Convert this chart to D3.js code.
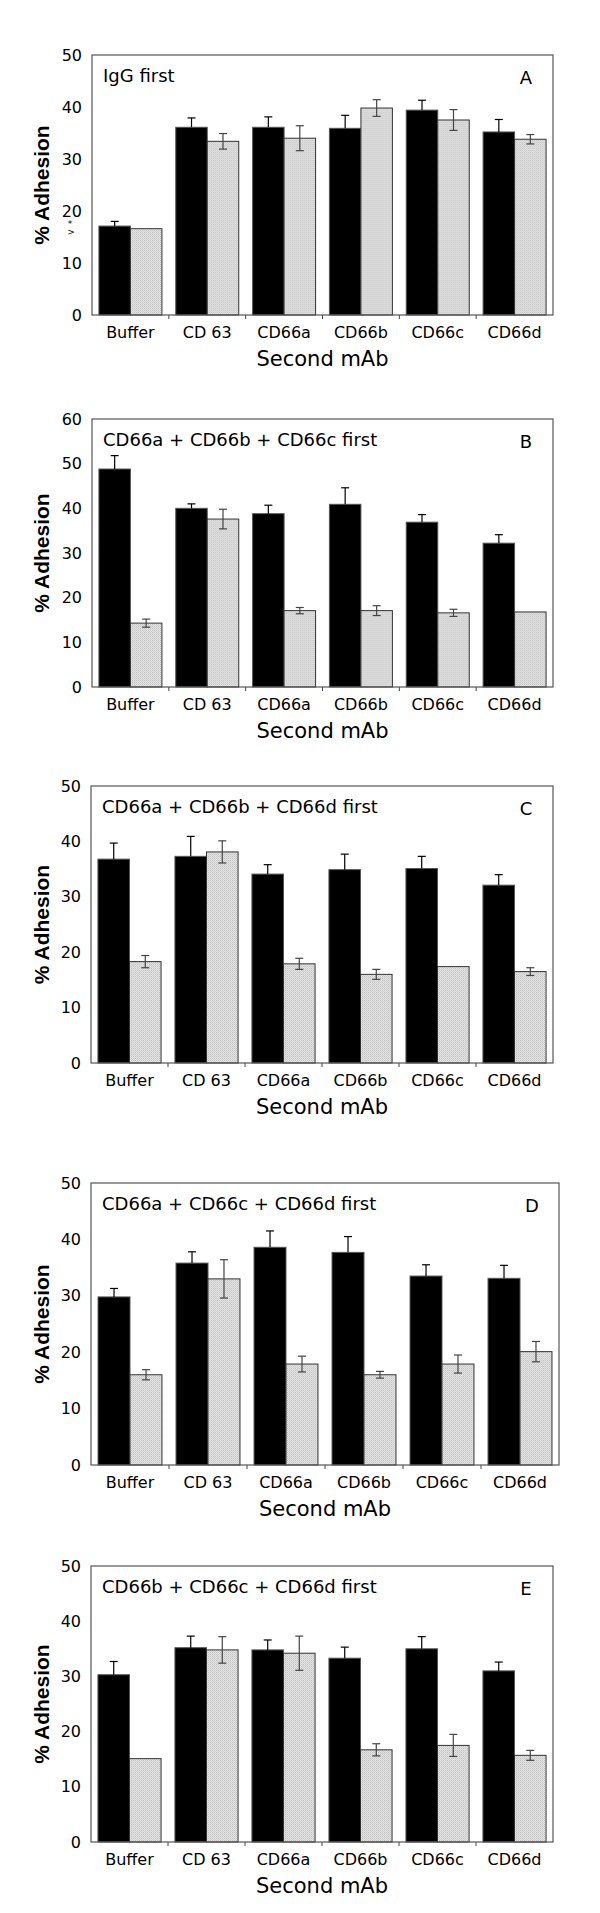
<!DOCTYPE html>
<html>
<head>
<meta charset="utf-8">
<script src="https://cdn.jsdelivr.net/npm/d3@7"></script>
<style>
  html, body { margin: 0; padding: 0; background: #fff; }
  svg { display: block; }
</style>
</head>
<body>
<script>
// ---------- data ----------
const categories = ["Buffer", "CD 63", "CD66a", "CD66b", "CD66c", "CD66d"];

const titles = ["IgG first", "CD66a + CD66b + CD66c first", "CD66a + CD66b + CD66d first",
                "CD66a + CD66c + CD66d first", "CD66b + CD66c + CD66d first"];
const letters = ["A", "B", "C", "D", "E"];
const yMaxes = [50, 60, 50, 50, 50];

const blackA = [17.1, 36.1, 36.1, 35.9, 39.4, 35.2];
const blackErrA = [0.9, 1.8, 2.0, 2.5, 1.9, 2.4];
const grayA = [16.6, 33.4, 34.0, 39.8, 37.5, 33.8];
const grayErrA = [0, 1.5, 2.4, 1.6, 2.0, 0.9];

const blackB = [48.8, 40.0, 38.8, 40.9, 36.9, 32.2];
const blackErrB = [3.0, 1.0, 1.9, 3.7, 1.7, 1.9];
const grayB = [14.3, 37.6, 17.1, 17.1, 16.6, 16.8];
const grayErrB = [0.9, 2.2, 0.7, 1.1, 0.8, 0];

const blackC = [36.8, 37.3, 34.1, 34.9, 35.1, 32.1];
const blackErrC = [2.9, 3.6, 1.7, 2.8, 2.2, 1.9];
const grayC = [18.3, 38.1, 17.9, 16.0, 17.4, 16.5];
const grayErrC = [1.1, 2.0, 1.0, 0.9, 0, 0.7];

const blackD = [29.8, 35.8, 38.6, 37.7, 33.5, 33.1];
const blackErrD = [1.5, 2.0, 2.9, 2.8, 2.0, 2.3];
const grayD = [16.0, 33.0, 17.9, 16.0, 17.9, 20.1];
const grayErrD = [0.9, 3.4, 1.4, 0.6, 1.6, 1.8];

const blackE = [30.3, 35.2, 34.8, 33.3, 35.0, 31.0];
const blackErrE = [2.4, 2.1, 1.8, 2.0, 2.2, 1.6];
const grayE = [15.1, 34.8, 34.2, 16.7, 17.5, 15.7];
const grayErrE = [0, 2.4, 3.1, 1.1, 2.0, 0.9];

const blackSeries = [blackA, blackB, blackC, blackD, blackE];
const blackErrSeries = [blackErrA, blackErrB, blackErrC, blackErrD, blackErrE];
const graySeries = [grayA, grayB, grayC, grayD, grayE];
const grayErrSeries = [grayErrA, grayErrB, grayErrC, grayErrD, grayErrE];

// ---------- layout ----------
const frames = [
  {left: 92, right: 553, top: 55,   bottom: 315},
  {left: 92, right: 553, top: 419,  bottom: 687},
  {left: 91, right: 553, top: 786,  bottom: 1063},
  {left: 91, right: 559, top: 1183, bottom: 1465},
  {left: 91, right: 553, top: 1566, bottom: 1842}
];

const svg = d3.select("body").append("svg")
  .attr("width", 600).attr("height", 1913);

const defs = svg.append("defs");
const pat = defs.append("pattern").attr("id", "stipple")
  .attr("patternUnits", "userSpaceOnUse").attr("width", 2).attr("height", 2);
pat.append("rect").attr("width", 2).attr("height", 2).attr("fill", "#e4e4e4");
pat.append("rect").attr("x", 0).attr("y", 0).attr("width", 1).attr("height", 1).attr("fill", "#c2c2c2");
pat.append("rect").attr("x", 1).attr("y", 1).attr("width", 1).attr("height", 1).attr("fill", "#d0d0d0");

const FONT = "'DejaVu Sans', Verdana, sans-serif";

frames.forEach((f, pi) => {
  const g = svg.append("g");
  const x0 = d3.scaleBand().domain(categories).range([f.left, f.right]).padding(0);
  const x1 = d3.scaleBand().domain(["black", "gray"]).range([0, x0.bandwidth()])
    .paddingInner(0).paddingOuter(0.22);
  const y = d3.scaleLinear().domain([0, yMaxes[pi]]).range([f.bottom, f.top]);

  const rows = categories.map((c, i) => ({
    cat: c,
    b: blackSeries[pi][i], be: blackErrSeries[pi][i],
    g: graySeries[pi][i], ge: grayErrSeries[pi][i]
  }));

  // y tick labels (no tick marks)
  const yAxis = d3.axisLeft(y).ticks(yMaxes[pi] / 10).tickSize(0).tickPadding(10);
  const ya = g.append("g").attr("transform", `translate(${f.left},0)`).call(yAxis);
  ya.select(".domain").remove();
  ya.selectAll("text").attr("font-family", FONT).attr("font-size", 16).attr("fill", "#000");

  // x axis with small ticks at group boundaries
  const xa = g.append("g").attr("transform", `translate(0,${f.bottom})`)
    .call(d3.axisBottom(x0).tickSize(0).tickPadding(12));
  xa.select(".domain").remove();
  xa.selectAll("text").attr("font-family", FONT).attr("font-size", 16).attr("fill", "#000")
    .attr("dy", "0.71em");
  const bounds = categories.slice(1).map(c => x0(c));
  g.selectAll(".bt").data(bounds).enter().append("line")
    .attr("x1", d => d).attr("x2", d => d)
    .attr("y1", f.bottom).attr("y2", f.bottom + 4)
    .attr("stroke", "#444").attr("stroke-width", 1);

  // bars
  const grp = g.selectAll(".grp").data(rows).enter().append("g")
    .attr("transform", d => `translate(${x0(d.cat)},0)`);
  grp.append("rect")
    .attr("x", x1("black")).attr("width", x1.bandwidth())
    .attr("y", d => y(d.b)).attr("height", d => y(0) - y(d.b))
    .attr("fill", "#000").attr("stroke", "#555").attr("stroke-width", 1);
  grp.append("rect")
    .attr("x", x1("gray")).attr("width", x1.bandwidth())
    .attr("y", d => y(d.g)).attr("height", d => y(0) - y(d.g))
    .attr("fill", "url(#stipple)").attr("stroke", "#333").attr("stroke-width", 1);

  // error bars: black bars upper only
  const cap = 4;
  const bx = x1("black") + x1.bandwidth() / 2;
  const gx = x1("gray") + x1.bandwidth() / 2;
  grp.filter(d => d.be > 0).append("line")
    .attr("x1", bx).attr("x2", bx).attr("y1", d => y(d.b)).attr("y2", d => y(d.b + d.be))
    .attr("stroke", "#000").attr("stroke-width", 1.2);
  grp.filter(d => d.be > 0).append("line")
    .attr("x1", bx - cap).attr("x2", bx + cap).attr("y1", d => y(d.b + d.be)).attr("y2", d => y(d.b + d.be))
    .attr("stroke", "#000").attr("stroke-width", 1.2);
  // gray bars: both directions
  const ge = grp.filter(d => d.ge > 0);
  ge.append("line")
    .attr("x1", gx).attr("x2", gx).attr("y1", d => y(d.g - d.ge)).attr("y2", d => y(d.g + d.ge))
    .attr("stroke", "#444").attr("stroke-width", 1.2);
  ge.append("line")
    .attr("x1", gx - cap).attr("x2", gx + cap).attr("y1", d => y(d.g + d.ge)).attr("y2", d => y(d.g + d.ge))
    .attr("stroke", "#444").attr("stroke-width", 1.2);
  ge.append("line")
    .attr("x1", gx - cap).attr("x2", gx + cap).attr("y1", d => y(d.g - d.ge)).attr("y2", d => y(d.g - d.ge))
    .attr("stroke", "#444").attr("stroke-width", 1.2);

  // frame
  g.append("rect").attr("x", f.left).attr("y", f.top)
    .attr("width", f.right - f.left).attr("height", f.bottom - f.top)
    .attr("fill", "none").attr("stroke", "#555").attr("stroke-width", 1.2);

  // title and letter
  g.append("text").attr("x", f.left + 11).attr("y", f.top + 27)
    .attr("font-family", FONT).attr("font-size", 18).text(titles[pi]);
  g.append("text").attr("x", f.right - 27).attr("y", f.top + 29)
    .attr("text-anchor", "middle")
    .attr("font-family", FONT).attr("font-size", 18).text(letters[pi]);

  // axis titles
  g.append("text").attr("x", (f.left + f.right) / 2).attr("y", f.bottom + 51)
    .attr("text-anchor", "middle").attr("font-family", FONT).attr("font-size", 21)
    .text("Second mAb");
  g.append("text")
    .attr("transform", `translate(49,${(f.top + f.bottom) / 2}) rotate(-90)`)
    .attr("text-anchor", "middle").attr("font-family", "'Liberation Sans', Arial, sans-serif")
    .attr("font-weight", "bold").attr("font-size", 21).text("% Adhesion");

  if (pi === 0) {
    const mark = g.append("text").attr("font-family", FONT).attr("font-size", 9)
      .attr("text-anchor", "middle");
    mark.append("tspan").attr("x", 70).attr("y", y(16.9)).text("*");
    mark.append("tspan").attr("x", 71).attr("dy", 8).text(">");
  }
});
</script>
</body>
</html>
